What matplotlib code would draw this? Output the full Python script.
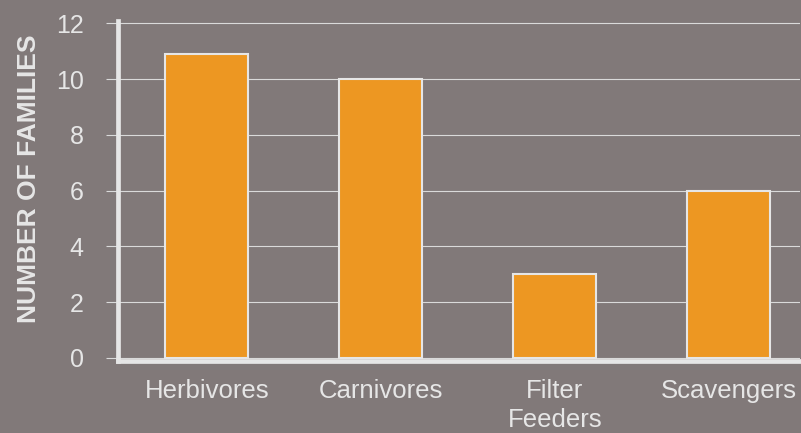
import matplotlib.pyplot as plt

categories = ["Herbivores", "Carnivores", "Filter\nFeeders", "Scavengers"]
families = [10.9, 10, 3, 6]
y_ticks = [0, 2, 4, 6, 8, 10, 12]

BG = "#817979"
BAR = "#ED9722"
LIGHT = "#E6E6E6"

plt.rcParams['font.family'] = ['Liberation Sans', 'DejaVu Sans']

fig = plt.figure(figsize=(8.01, 4.33), dpi=100, facecolor=BG)
ax = fig.add_axes([118 / 801, (433 - 361) / 433, (800 - 118) / 801, 340 / 433])
ax.set_facecolor(BG)

x = range(len(categories))
ax.bar(x, families, width=0.48, color=BAR, edgecolor=LIGHT, linewidth=1.5, zorder=3)

ax.set_xlim(-0.51, 3.41)
ax.set_ylim(-0.11, 12.08)
ax.set_yticks(y_ticks)
ax.set_xticks(list(x))
ax.set_xticklabels(categories, linespacing=1.25)

ax.grid(axis='y', color="#DADADA", linewidth=0.8, zorder=0)
ax.tick_params(axis='y', colors="#DADADA", labelcolor=LIGHT, labelsize=18,
               length=8.6, width=0.8, pad=16)
ax.tick_params(axis='x', length=0, labelcolor=LIGHT, labelsize=18.5, pad=13)

for side in ['top', 'right']:
    ax.spines[side].set_visible(False)
for side in ['left', 'bottom']:
    ax.spines[side].set_color(LIGHT)
    ax.spines[side].set_linewidth(3.4)
    ax.spines[side].set_capstyle('projecting')
    ax.spines[side].set_zorder(4)

ax.set_ylabel("NUMBER OF FAMILIES", fontsize=19, fontweight='bold',
              color=LIGHT)
ax.yaxis.set_label_coords(-0.113, 0.535)

fig.savefig("out.png", dpi=100, facecolor=BG)
